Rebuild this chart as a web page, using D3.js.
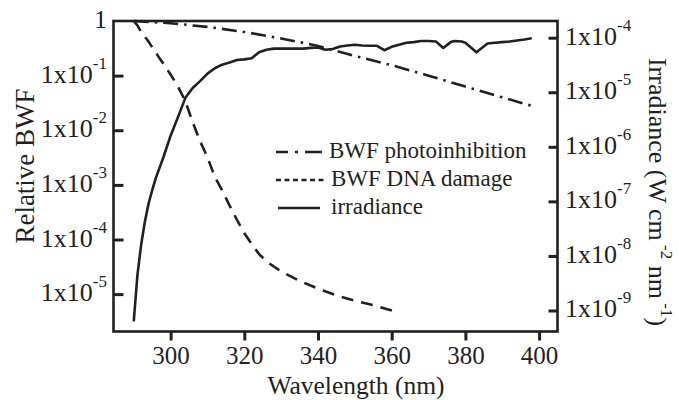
<!DOCTYPE html>
<html>
<head>
<meta charset="utf-8">
<script src="https://cdn.jsdelivr.net/npm/d3@7"></script>
<style>
  body { margin: 0; background: #fff; }
  text { font-family: "Liberation Serif", "Times New Roman", serif; fill: #231f20; }
</style>
</head>
<body>
<script>
// BWF photoinhibition (relative, left axis)
const photoWl  = [290, 300, 310, 320, 330, 340, 350, 360, 370, 380, 390, 398];
const photoVal = [1, 0.91, 0.78, 0.63, 0.48, 0.35, 0.23, 0.155, 0.1, 0.063, 0.04, 0.028];

// BWF DNA damage (relative, left axis)
const dnaWl  = [290, 291, 292, 294, 296, 298, 300, 302, 304, 306, 308, 310, 312, 314, 316, 318,
                320, 322, 324, 326, 328, 330, 335, 340, 345, 350, 355, 360, 362];
const dnaVal = [1, 0.83, 0.63, 0.42, 0.26, 0.166, 0.105, 0.063, 0.034, 0.014, 0.0063, 0.0032,
                0.0014, 7.9e-4, 4.2e-4, 2.3e-4, 1.3e-4, 8.3e-5, 5.4e-5, 4.0e-5, 3.2e-5, 2.6e-5,
                1.75e-5, 1.26e-5, 9.5e-6, 7.6e-6, 6.3e-6, 5.0e-6, 4.5e-6];

// irradiance (W cm-2 nm-1, right axis)
const irrWl  = [290, 291, 292, 293, 294, 295, 296, 298, 300, 302, 304, 306, 308, 310, 312, 314,
                316, 318, 320, 322, 324, 326, 328, 330, 332, 334, 336, 338, 340, 342, 344, 346,
                348, 350, 352, 354, 356, 358, 360, 362, 364, 366, 368, 370, 372, 374, 376, 377,
                379, 380, 383, 386, 388, 390, 392, 394, 396, 398];
const irrVal = [6.3e-10, 4.5e-9, 1.6e-8, 4.2e-8, 9.0e-8, 1.6e-7, 2.7e-7, 6.3e-7, 1.6e-6, 3.5e-6,
                7.9e-6, 1.2e-5, 1.6e-5, 2.2e-5, 2.75e-5, 3.2e-5, 3.5e-5, 3.9e-5, 4.0e-5, 4.2e-5,
                5.4e-5, 6.0e-5, 6.3e-5, 6.3e-5, 6.3e-5, 6.3e-5, 6.3e-5, 6.5e-5, 6.6e-5, 6.0e-5,
                6.2e-5, 6.9e-5, 7.2e-5, 7.4e-5, 7.2e-5, 7.1e-5, 7.1e-5, 5.9e-5, 6.8e-5, 7.4e-5,
                8.1e-5, 8.3e-5, 8.7e-5, 8.7e-5, 8.5e-5, 6.5e-5, 8.3e-5, 8.7e-5, 8.5e-5, 8.1e-5,
                5.4e-5, 7.8e-5, 8.1e-5, 8.3e-5, 8.5e-5, 8.9e-5, 9.3e-5, 9.8e-5];

// tick values
const xTicks = [300, 320, 340, 360, 380, 400];
const leftTicks = [0, -1, -2, -3, -4, -5];      // exponents
const rightTicks = [-4, -5, -6, -7, -8, -9];    // exponents

const legendItems = ["BWF photoinhibition", "BWF DNA damage", "irradiance"];

const W = 679, H = 400;
const plot = { left: 113.5, right: 557.5, top: 21, bottom: 331.5 };
const ink = "#231f20";

const svg = d3.select("body").append("svg")
    .attr("width", W)
    .attr("height", H);

const x = d3.scaleLinear().domain([284.5, 405]).range([plot.left, plot.right]);
const yL = d3.scaleLog().domain([Math.pow(10, -5.684), 1]).range([plot.bottom, plot.top]);
const yR = d3.scaleLog().domain([Math.pow(10, -9.385), Math.pow(10, -3.694)]).range([plot.bottom, plot.top]);

// curves
const lineL = (wl, v) => d3.line().x((d, i) => x(wl[i])).y(d => yL(d))(v);
const lineR = (wl, v) => d3.line().x((d, i) => x(wl[i])).y(d => yR(d))(v);

svg.append("path")
    .attr("d", lineL(photoWl, photoVal))
    .attr("fill", "none").attr("stroke", ink).attr("stroke-width", 2.6)
    .attr("stroke-dasharray", "15,6,2.5,6");

svg.append("path")
    .attr("d", lineL(dnaWl, dnaVal))
    .attr("fill", "none").attr("stroke", ink).attr("stroke-width", 2.6)
    .attr("stroke-dasharray", "12,8");

svg.append("path")
    .attr("d", lineR(irrWl, irrVal))
    .attr("fill", "none").attr("stroke", ink).attr("stroke-width", 2.6)
    .attr("stroke-linejoin", "round");

// frame
svg.append("rect")
    .attr("x", plot.left).attr("y", plot.top)
    .attr("width", plot.right - plot.left).attr("height", plot.bottom - plot.top)
    .attr("fill", "none").attr("stroke", ink).attr("stroke-width", 2.6);

// x axis (ticks outward)
const gx = svg.append("g")
    .attr("transform", `translate(0,${plot.bottom})`)
    .call(d3.axisBottom(x).tickValues(xTicks).tickSize(9).tickPadding(6).tickSizeOuter(0));
gx.select(".domain").remove();
gx.selectAll("line").attr("stroke", ink).attr("stroke-width", 3);
gx.selectAll("text").attr("font-size", 25).attr("font-family", "Liberation Serif").attr("fill", ink);

// left axis (ticks inward)
const gl = svg.append("g")
    .attr("transform", `translate(${plot.left},0)`)
    .call(d3.axisLeft(yL).tickValues(leftTicks.slice(1).map(e => Math.pow(10, e))).tickSize(-10).tickFormat(""));
gl.select(".domain").remove();
gl.selectAll("line").attr("stroke", ink).attr("stroke-width", 3);

// right axis (ticks inward)
const gr = svg.append("g")
    .attr("transform", `translate(${plot.right},0)`)
    .call(d3.axisRight(yR).tickValues(rightTicks.map(e => Math.pow(10, e))).tickSize(-9).tickFormat(""));
gr.select(".domain").remove();
gr.selectAll("line").attr("stroke", ink).attr("stroke-width", 3);

// tick labels with superscripts
function powLabel(g, e, xpos, ypos, anchor) {
  const t = g.append("text")
      .attr("x", xpos).attr("y", ypos + 7)
      .attr("text-anchor", anchor)
      .attr("font-size", 26);
  if (e === 0) { t.text("1"); return; }
  t.append("tspan").text("1x10");
  t.append("tspan").attr("font-size", 17).attr("dy", -14).text(String(e));
}
leftTicks.forEach(e => powLabel(svg, e, 107, yL(Math.pow(10, e)), "end"));
rightTicks.forEach(e => powLabel(svg, e, 565, yR(Math.pow(10, e)), "start"));

// axis titles
svg.append("text")
    .attr("x", 356).attr("y", 394)
    .attr("text-anchor", "middle").attr("font-size", 25.5)
    .text("Wavelength (nm)");

svg.append("text")
    .attr("transform", "translate(34,166) rotate(-90)")
    .attr("text-anchor", "middle").attr("font-size", 27)
    .text("Relative BWF");

const rt = svg.append("text")
    .attr("transform", "translate(649,192) rotate(90)")
    .attr("text-anchor", "middle").attr("font-size", 26);
rt.append("tspan").text("Irradiance (W cm");
rt.append("tspan").attr("font-size", 17).attr("dy", -12).text(" -2");
rt.append("tspan").attr("dy", 12).text(" nm");
rt.append("tspan").attr("font-size", 17).attr("dy", -12).text(" -1");
rt.append("tspan").attr("dy", 12).text(")");

// legend
const legDash = ["12,7,3,7,17", "5,3.5", null];
const leg = svg.append("g");
legendItems.forEach((name, i) => {
  const yy = 152 + i * 28;
  const ln = leg.append("line")
      .attr("x1", i === 2 ? 278 : 276).attr("x2", i === 2 ? 320 : 325)
      .attr("y1", yy).attr("y2", yy)
      .attr("stroke", ink).attr("stroke-width", 2.6);
  if (legDash[i]) ln.attr("stroke-dasharray", legDash[i]);
  leg.append("text")
      .attr("x", i === 0 ? 329 : 331).attr("y", yy + 6)
      .attr("font-size", 23)
      .text(name);
});
</script>
</body>
</html>
